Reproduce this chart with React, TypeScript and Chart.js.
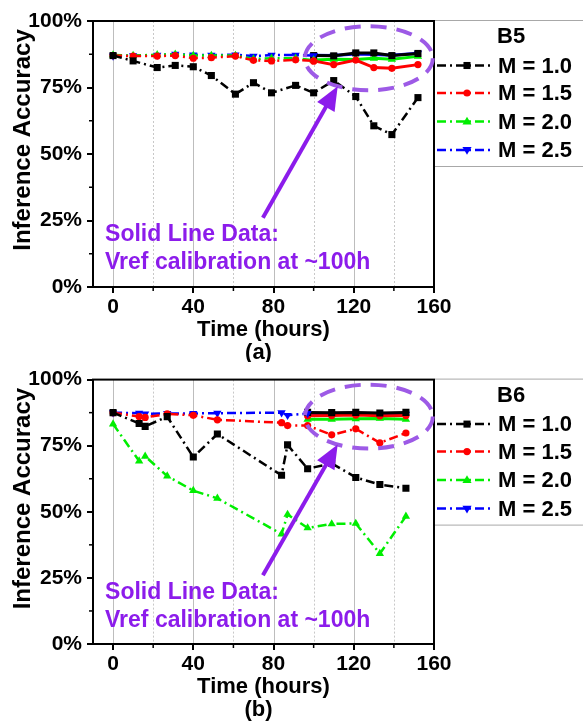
import React, { useEffect, useRef } from 'react';
import { Chart, registerables } from 'chart.js';

Chart.register(...registerables);

const FONT = "'Liberation Sans', Arial, sans-serif";
const VIOLET = '#8C1CEB';
const VIOLET_LIGHT = '#9D5AE6';

// ---------- B5 (panel a) ----------
const timeB5 = [0, 10, 22, 31, 40, 49, 61, 70, 79, 91, 100, 110, 121, 130, 139, 152];
const b5M10 = [87, 85, 82.5, 83.3, 82.8, 79.5, 72.5, 76.8, 73, 75.8, 73, 77.6, 71.6, 60.6, 57.3, 71.2];
const b5M15 = [87, 86.8, 86.8, 87, 86, 86.2, 86.8, 85.2, 85, 85.4, 85];
const b5M20 = [87.2, 87, 87.3, 87.5, 87, 87, 87, 85.7, 86, 86, 85.3];
const b5M25 = [86.9, 87, 87.2, 87.5, 87.3, 87.2, 87.3, 86.8, 87.2, 87.2, 87];
const calTimeB5 = [100, 110, 121, 130, 139, 152];
const b5CalM10 = [87, 86.9, 88, 88, 87, 87.8];
const b5CalM15 = [85, 83.6, 85.3, 82.5, 82.2, 83.6];
const b5CalM20 = [85.3, 85.6, 85.5, 86, 85.6, 86.7];
const b5CalM25 = [87.1, 87, 87.6, 87.4, 87.1, 87.9];

// ---------- B6 (panel b) ----------
const timeB6 = [0, 13, 16, 27, 40, 52, 84, 87, 97, 109, 121, 133, 146];
const b6M10 = [87.5, 83.4, 82.3, 86, 70.7, 79.4, 63.8, 75.3, 66.3, 68.3, 63, 60.3, 58.9];
const b6M15 = [87.5, 86, 85.7, 87, 86.5, 84.8, 83.7, 82.6, 82.6, 79.1, 81.4, 76.1, 79.8];
const b6M20 = [83.2, 69.2, 71, 63.5, 58, 55.1, 41.6, 49, 43.9, 45.4, 45.6, 34.2, 48.3];
const b6M25 = [87.5, 87.3, 87, 87.2, 87.2, 87.3, 87.5, 86.5, 87.2];
const calTimeB6 = [97, 109, 121, 133, 146];
const b6CalM10 = [87.6, 87.5, 87.6, 87.4, 87.6];
const b6CalM15 = [86.3, 86.4, 86.6, 86.3, 86.4];
const b6CalM20 = [85, 85, 85.2, 85.3, 85];
const b6CalM25 = [87, 86.9, 87.1, 86.8, 86.9];

// ---------- shared axis/legend content ----------
const xTicks = [0, 40, 80, 120, 160];
const xMinor = [20, 60, 100, 140];
const yTicks = [0, 25, 50, 75, 100];
const yMinor = [12.5, 37.5, 62.5, 87.5];
const seriesLabels = ['M = 1.0', 'M = 1.5', 'M = 2.0', 'M = 2.5'];
const seriesColors = ['#000000', '#FF0000', '#00EE00', '#0000FF'];
const seriesMarkers = ['rect', 'circle', 'triangle', 'triangleDown'];
const noteLines = ['Solid Line Data:', 'Vref calibration at ~100h'];

const DASH_DOT = [9, 4, 2, 4];

type PanelCfg = {
  name: string;
  tag: string;
  areaTop: number;
  areaBottom: number;
  dashed: { t: number[]; v: number[] }[];
  solid: { t: number[]; v: number[] }[];
};

const panels: PanelCfg[] = [
  {
    name: 'B5',
    tag: '(a)',
    areaTop: 21,
    areaBottom: 287,
    dashed: [
      { t: timeB5, v: b5M10 },
      { t: timeB5, v: b5M15 },
      { t: timeB5, v: b5M20 },
      { t: timeB5, v: b5M25 },
    ],
    solid: [
      { t: calTimeB5, v: b5CalM10 },
      { t: calTimeB5, v: b5CalM15 },
      { t: calTimeB5, v: b5CalM20 },
      { t: calTimeB5, v: b5CalM25 },
    ],
  },
  {
    name: 'B6',
    tag: '(b)',
    areaTop: 15,
    areaBottom: 282,
    dashed: [
      { t: timeB6, v: b6M10 },
      { t: timeB6, v: b6M15 },
      { t: timeB6, v: b6M20 },
      { t: timeB6, v: b6M25 },
    ],
    solid: [
      { t: calTimeB6, v: b6CalM10 },
      { t: calTimeB6, v: b6CalM15 },
      { t: calTimeB6, v: b6CalM20 },
      { t: calTimeB6, v: b6CalM25 },
    ],
  },
];

const W = 583;
const H = 362;
const PLOT_LEFT = 93;
const PLOT_RIGHT = 434;

function markerRadius(style: string) {
  if (style === 'rect') return 5;
  if (style === 'circle') return 3.6;
  return 4.8;
}

// Chart.js has no downward triangle, so it is an upward one turned by 180°
function chartPointStyle(style: string) {
  return style === 'triangleDown' ? 'triangle' : style;
}
function chartPointRotation(style: string) {
  return style === 'triangleDown' ? 180 : 0;
}

function drawMarker(ctx: CanvasRenderingContext2D, style: string, x: number, y: number, color: string) {
  const r = markerRadius(style);
  ctx.fillStyle = color;
  ctx.beginPath();
  if (style === 'rect') {
    const s = r * Math.SQRT1_2;
    ctx.rect(x - s, y - s, 2 * s, 2 * s);
  } else if (style === 'circle') {
    ctx.arc(x, y, r, 0, Math.PI * 2);
  } else if (style === 'triangle') {
    ctx.moveTo(x, y - r);
    ctx.lineTo(x + r * 0.95, y + r * 0.6);
    ctx.lineTo(x - r * 0.95, y + r * 0.6);
    ctx.closePath();
  } else {
    ctx.moveTo(x, y + r);
    ctx.lineTo(x + r * 0.95, y - r * 0.6);
    ctx.lineTo(x - r * 0.95, y - r * 0.6);
    ctx.closePath();
  }
  ctx.fill();
}

function decorPlugin(p: PanelCfg) {
  return {
    id: 'decor',
    beforeDatasetsDraw(chart: any) {
      const { ctx, chartArea: a, scales } = chart;
      const x = scales.x;
      ctx.save();
      ctx.lineWidth = 1;
      ctx.strokeStyle = '#BDBDBD';
      for (const v of xTicks) {
        const px = Math.round(x.getPixelForValue(v)) + 0.5;
        ctx.setLineDash([]);
        ctx.beginPath();
        ctx.moveTo(px, a.top);
        ctx.lineTo(px, a.bottom);
        ctx.stroke();
      }
      ctx.strokeStyle = '#C8C8C8';
      for (const v of xMinor) {
        const px = Math.round(x.getPixelForValue(v)) + 0.5;
        ctx.setLineDash([2, 2]);
        ctx.beginPath();
        ctx.moveTo(px, a.top);
        ctx.lineTo(px, a.bottom);
        ctx.stroke();
      }
      ctx.restore();
    },
    afterDraw(chart: any) {
      const { ctx, chartArea: a, scales } = chart;
      const x = scales.x;
      const y = scales.y;
      ctx.save();

      // plot frame
      ctx.setLineDash([]);
      ctx.strokeStyle = '#000';
      ctx.lineWidth = 2;
      ctx.strokeRect(a.left, a.top, a.right - a.left, a.bottom - a.top);

      // minor ticks
      ctx.lineWidth = 1.5;
      for (const v of xMinor) {
        const px = x.getPixelForValue(v);
        ctx.beginPath();
        ctx.moveTo(px, a.bottom);
        ctx.lineTo(px, a.bottom + 4);
        ctx.stroke();
      }
      for (const v of yMinor) {
        const py = y.getPixelForValue(v);
        ctx.beginPath();
        ctx.moveTo(a.left, py);
        ctx.lineTo(a.left - 4, py);
        ctx.stroke();
      }

      // axis titles and panel tag
      ctx.fillStyle = '#000';
      ctx.font = `bold 22px ${FONT}`;
      ctx.textAlign = 'center';
      ctx.textBaseline = 'middle';
      const cx = (a.left + a.right) / 2;
      ctx.fillText('Time (hours)', cx, a.bottom + 43);
      ctx.fillText(p.tag, cx - 5, a.bottom + 66);
      ctx.save();
      ctx.translate(23, a.top + 119);
      ctx.rotate(-Math.PI / 2);
      ctx.font = `bold 24px ${FONT}`;
      ctx.fillText('Inference Accuracy', 0, 0);
      ctx.restore();

      // calibration highlight
      const ex = x.getPixelForValue(127.5);
      const ey = y.getPixelForValue(86);
      ctx.strokeStyle = VIOLET_LIGHT;
      ctx.lineWidth = 4;
      ctx.setLineDash([16, 10]);
      ctx.beginPath();
      ctx.ellipse(ex, ey, 64, 32, 0, 0, Math.PI * 2);
      ctx.stroke();
      ctx.setLineDash([]);

      // arrow
      const tx = x.getPixelForValue(74.7);
      const ty = y.getPixelForValue(26);
      const hx = x.getPixelForValue(112);
      const hy = y.getPixelForValue(75.5);
      const ang = Math.atan2(hy - ty, hx - tx);
      const headLen = 24;
      const headHalf = 10;
      const bx = hx - headLen * Math.cos(ang);
      const by = hy - headLen * Math.sin(ang);
      ctx.strokeStyle = VIOLET;
      ctx.fillStyle = VIOLET;
      ctx.lineWidth = 4;
      ctx.beginPath();
      ctx.moveTo(tx, ty);
      ctx.lineTo(bx + 2 * Math.cos(ang), by + 2 * Math.sin(ang));
      ctx.stroke();
      ctx.beginPath();
      ctx.moveTo(hx, hy);
      ctx.lineTo(bx + headHalf * Math.sin(ang), by - headHalf * Math.cos(ang));
      ctx.lineTo(bx - headHalf * Math.sin(ang), by + headHalf * Math.cos(ang));
      ctx.closePath();
      ctx.fill();

      // note text
      ctx.font = `bold 23px ${FONT}`;
      ctx.textAlign = 'left';
      ctx.textBaseline = 'middle';
      const nx = x.getPixelForValue(-4);
      ctx.fillText(noteLines[0], nx, y.getPixelForValue(19.5));
      ctx.fillText(noteLines[1], nx, y.getPixelForValue(9));

      // legend
      const lt = a.top;
      ctx.strokeStyle = '#A8A8A8';
      ctx.lineWidth = 1;
      ctx.beginPath();
      ctx.moveTo(a.right + 1, lt - 0.5);
      ctx.lineTo(W, lt - 0.5);
      ctx.moveTo(a.right + 1, lt + 145.5);
      ctx.lineTo(W, lt + 145.5);
      ctx.stroke();

      ctx.fillStyle = '#000';
      ctx.font = `bold 22px ${FONT}`;
      ctx.textAlign = 'left';
      ctx.fillText(p.name, 497, lt + 16);
      const rows = [44.5, 72, 100.5, 129];
      seriesLabels.forEach((label, i) => {
        const ry = lt + rows[i];
        ctx.strokeStyle = seriesColors[i];
        ctx.lineWidth = 2.5;
        ctx.setLineDash(DASH_DOT);
        ctx.beginPath();
        ctx.moveTo(437, ry);
        ctx.lineTo(492, ry);
        ctx.stroke();
        ctx.setLineDash([]);
        drawMarker(ctx, seriesMarkers[i], 467, ry, seriesColors[i]);
        ctx.fillStyle = '#000';
        ctx.fillText(label, 498, ry + 1);
      });

      ctx.restore();
    },
  };
}

function buildDatasets(p: PanelCfg) {
  const make = (s: { t: number[]; v: number[] }, i: number, solid: boolean) => ({
    label: seriesLabels[i] + (solid ? ' (calibrated)' : ''),
    data: s.v.map((val, k) => ({ x: s.t[k], y: val })),
    borderColor: seriesColors[i],
    backgroundColor: seriesColors[i],
    borderWidth: solid ? 3 : 2.5,
    borderDash: solid ? [] : DASH_DOT,
    pointStyle: chartPointStyle(seriesMarkers[i]) as any,
    pointRotation: chartPointRotation(seriesMarkers[i]),
    pointRadius: markerRadius(seriesMarkers[i]),
    pointBorderWidth: 0,
    pointBackgroundColor: seriesColors[i],
    tension: 0,
    fill: false,
  });
  return [
    ...p.dashed.map((s, i) => make(s, i, false)),
    ...p.solid.map((s, i) => make(s, i, true)),
  ];
}

function Panel({ p, top }: { p: PanelCfg; top: number }) {
  const ref = useRef<HTMLCanvasElement>(null);
  useEffect(() => {
    const canvas = ref.current;
    if (!canvas) return;
    const chart = new Chart(canvas, {
      type: 'line',
      data: { datasets: buildDatasets(p) as any },
      options: {
        responsive: false,
        animation: false,
        devicePixelRatio: 1,
        layout: { padding: { top: p.areaTop, left: 0, right: W - PLOT_RIGHT, bottom: 0 } },
        plugins: { legend: { display: false }, tooltip: { enabled: false } },
        scales: {
          x: {
            type: 'linear',
            min: -10,
            max: 160,
            afterBuildTicks: (s: any) => {
              s.ticks = xTicks.map((v) => ({ value: v }));
            },
            afterFit: (s: any) => {
              s.height = H - p.areaBottom;
            },
            grid: { display: true, drawOnChartArea: false, drawTicks: true, tickLength: 6, color: '#000', lineWidth: 2 },
            border: { display: false },
            ticks: {
              color: '#000',
              font: { family: FONT, size: 21, weight: 'bold' },
              padding: 2,
              maxRotation: 0,
              autoSkip: false,
            },
          },
          y: {
            type: 'linear',
            min: 0,
            max: 100,
            afterBuildTicks: (s: any) => {
              s.ticks = yTicks.map((v) => ({ value: v }));
            },
            afterFit: (s: any) => {
              s.width = PLOT_LEFT;
            },
            grid: { display: true, drawOnChartArea: false, drawTicks: true, tickLength: 6, color: '#000', lineWidth: 2 },
            border: { display: false },
            ticks: {
              color: '#000',
              font: { family: FONT, size: 21, weight: 'bold' },
              padding: 5,
              callback: (v: any) => `${v}%`,
            },
          },
        },
      },
      plugins: [decorPlugin(p)],
    });
    return () => chart.destroy();
  }, [p]);
  return (
    <canvas
      ref={ref}
      width={W}
      height={H}
      style={{ position: 'absolute', left: 0, top, width: W, height: H, display: 'block' }}
    />
  );
}

export default function App() {
  return (
    <div style={{ position: 'absolute', left: 0, top: 0, width: W, height: 724, background: '#fff', overflow: 'hidden' }}>
      <Panel p={panels[0]} top={0} />
      <Panel p={panels[1]} top={362} />
    </div>
  );
}
